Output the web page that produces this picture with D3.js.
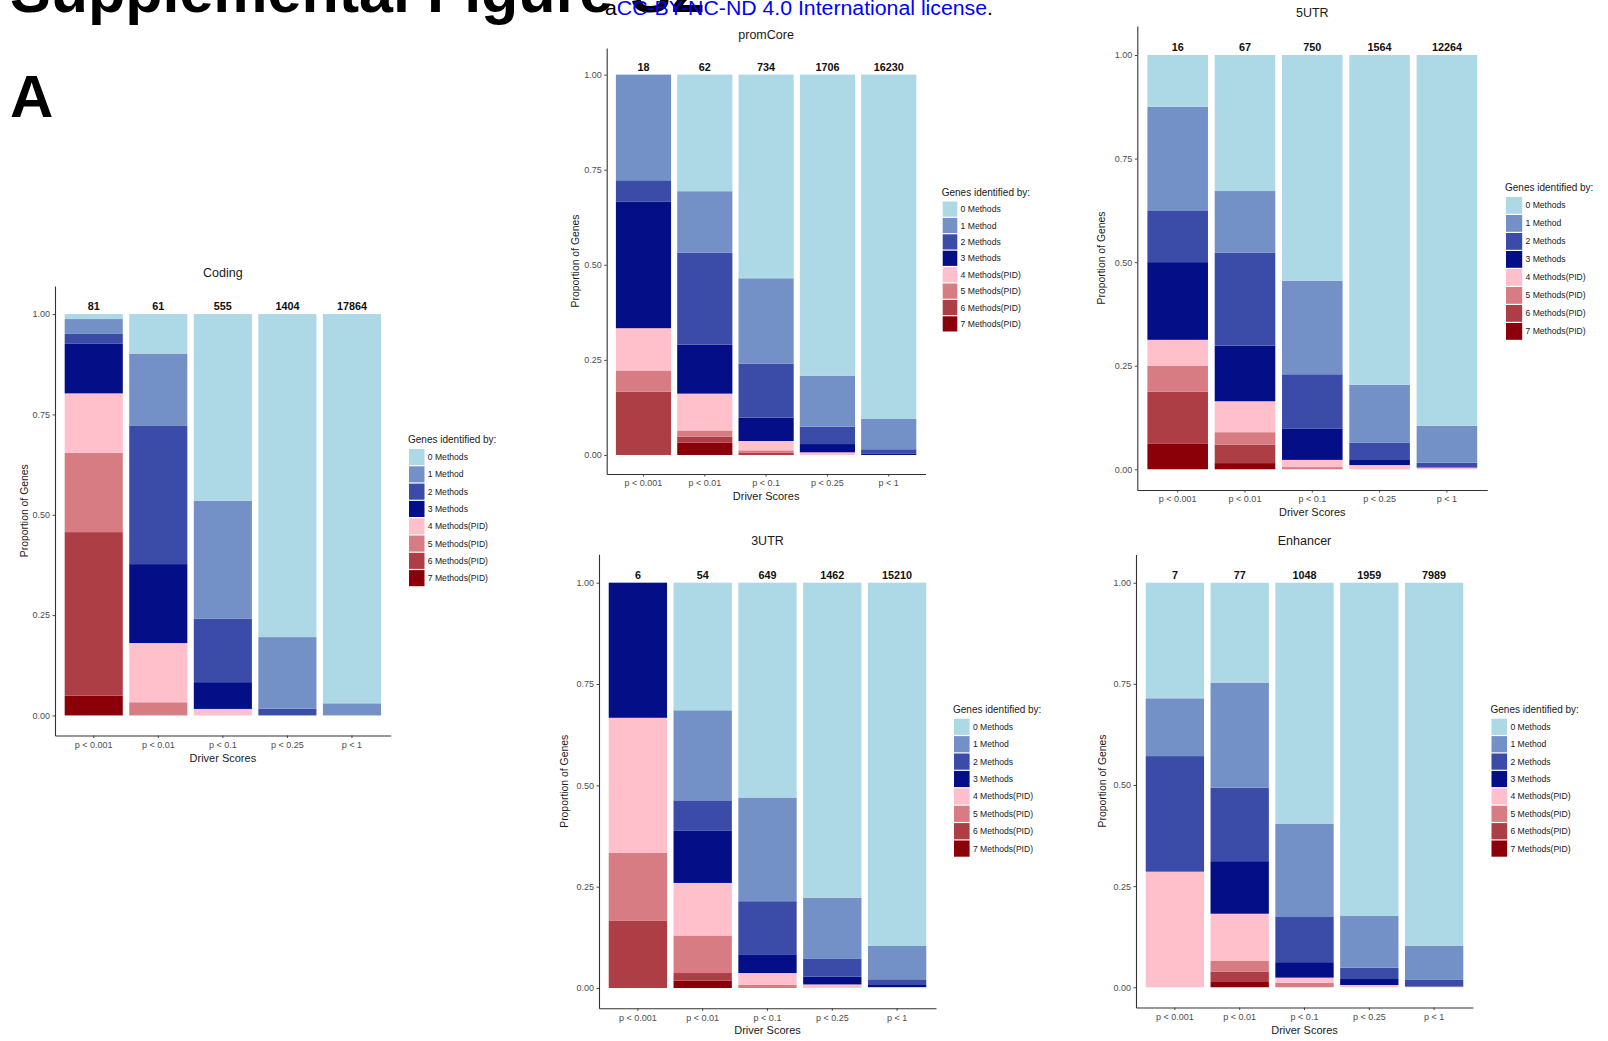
<!DOCTYPE html>
<html>
<head>
<meta charset="utf-8">
<script src="https://cdn.jsdelivr.net/npm/d3@7"></script>
<style>
  html, body { margin: 0; padding: 0; background: #fff; }
  svg { display: block; font-family: "Liberation Sans", Arial, Helvetica, sans-serif; }
</style>
</head>
<body>
<svg id="fig" width="1608" height="1041"></svg>
<script>
// Driver-score bins shared by every region
const categories = ["p < 0.001", "p < 0.01", "p < 0.1", "p < 0.25", "p < 1"];

// Number of methods that identified each gene (stack order: 0 on top, 7 at the bottom)
const methodLevels = ["0 Methods", "1 Method", "2 Methods", "3 Methods",
  "4 Methods(PID)", "5 Methods(PID)", "6 Methods(PID)", "7 Methods(PID)"];
const methodColors = ["#ADD8E6", "#7391C6", "#3A4BA8", "#040E86",
  "#FFC0CB", "#D67C82", "#AE3E45", "#8B0008"];

// Gene counts per bin, one array per bin, ordered as methodLevels
const codingCounts = [
  [1, 3, 2, 10, 12, 16, 33, 4],
  [6, 11, 21, 12, 9, 2, 0, 0],
  [258, 163, 88, 37, 9, 0, 0, 0],
  [1130, 250, 24, 0, 0, 0, 0, 0],
  [17324, 540, 0, 0, 0, 0, 0, 0]
];
const promCoreCounts = [
  [0, 5, 1, 6, 2, 1, 3, 0],
  [19, 10, 15, 8, 6, 1, 1, 2],
  [393, 165, 104, 45, 18, 5, 4, 0],
  [1350, 229, 78, 37, 12, 0, 0, 0],
  [14693, 1293, 195, 49, 0, 0, 0, 0]
];
const utr5Counts = [
  [2, 4, 2, 3, 1, 1, 2, 1],
  [22, 10, 15, 9, 5, 2, 3, 1],
  [409, 169, 98, 57, 13, 4, 0, 0],
  [1245, 218, 66, 19, 16, 0, 0, 0],
  [10973, 1095, 147, 0, 49, 0, 0, 0]
];
const utr3Counts = [
  [0, 0, 0, 2, 2, 1, 1, 0],
  [17, 12, 4, 7, 7, 5, 1, 1],
  [344, 166, 85, 30, 19, 5, 0, 0],
  [1136, 221, 64, 28, 13, 0, 0, 0],
  [13633, 1250, 213, 76, 38, 0, 0, 0]
];
const enhancerCounts = [
  [2, 1, 2, 0, 2, 0, 0, 0],
  [19, 20, 14, 10, 9, 2, 2, 1],
  [624, 242, 117, 40, 13, 12, 0, 0],
  [1614, 250, 55, 29, 11, 0, 0, 0],
  [7166, 678, 105, 24, 16, 0, 0, 0]
];

const yTicks = [0, 0.25, 0.5, 0.75, 1];

// Panel frames (axis extents) and legend placement
const panels = [
  { title: "Coding",   counts: codingCounts,   left: 55,    right: 390.7,  top: 286,   bottom: 735.5,
    yTitleOff: 27, legend: { x: 409,    y: 449,   step: 17.3 } },
  { title: "promCore", counts: promCoreCounts, left: 606.7, right: 925.5,  top: 48,    bottom: 474,
    yTitleOff: 28, legend: { x: 942.7,  y: 201.5, step: 16.4 } },
  { title: "5UTR",     counts: utr5Counts,     left: 1137.3, right: 1487.3, top: 26,   bottom: 490,
    yTitleOff: 32, legend: { x: 1506,   y: 197,   step: 18.0 } },
  { title: "3UTR",     counts: utr3Counts,     left: 599,   right: 936,    top: 554.3, bottom: 1008.3,
    yTitleOff: 31, legend: { x: 954,    y: 718.7, step: 17.4 } },
  { title: "Enhancer", counts: enhancerCounts, left: 1136,  right: 1473,   top: 554.4, bottom: 1007.5,
    yTitleOff: 30, legend: { x: 1491.5, y: 718.7, step: 17.4 } }
];

const svg = d3.select("#fig");
const color = d3.scaleOrdinal().domain(methodLevels).range(methodColors);

// Page header
svg.append("text")
  .attr("x", 10).attr("y", 12)
  .attr("font-size", 61).attr("font-weight", "bold").attr("fill", "#000")
  .text("Supplemental Figure S2");

const lic = svg.append("text")
  .attr("x", 605).attr("y", 15)
  .attr("font-size", 20)
  .attr("textLength", 388).attr("lengthAdjust", "spacingAndGlyphs");
lic.append("tspan").attr("fill", "#000").text("a");
lic.append("tspan").attr("fill", "#0000FF").text("CC-BY-NC-ND 4.0 International license");
lic.append("tspan").attr("fill", "#000").text(".");

svg.append("text")
  .attr("x", 10).attr("y", 117)
  .attr("font-size", 60).attr("font-weight", "bold").attr("fill", "#000")
  .text("A");

panels.forEach(p => {
  const g = svg.append("g");

  const rows = p.counts.map((c, i) => {
    const total = d3.sum(c);
    const row = { cat: categories[i], total };
    methodLevels.forEach((m, j) => { row[m] = c[j] / total; });
    return row;
  });

  const x = d3.scaleBand().domain(categories).range([p.left, p.right])
    .paddingInner(0.1).paddingOuter(0.15);
  const y = d3.scaleLinear().domain([-0.05, 1.07]).range([p.bottom, p.top]);

  const series = d3.stack().keys(methodLevels.slice().reverse())(rows);

  g.selectAll("g.layer").data(series).join("g")
    .attr("class", "layer")
    .attr("fill", d => color(d.key))
    .selectAll("rect").data(d => d).join("rect")
    .attr("x", d => x(d.data.cat))
    .attr("width", x.bandwidth())
    .attr("y", d => y(d[1]))
    .attr("height", d => Math.max(0, y(d[0]) - y(d[1])));

  // Totals above each bar
  g.selectAll("text.total").data(rows).join("text")
    .attr("class", "total")
    .attr("x", d => x(d.cat) + x.bandwidth() / 2)
    .attr("y", y(1) - 4)
    .attr("text-anchor", "middle")
    .attr("font-size", 10.8).attr("font-weight", "bold").attr("fill", "#111")
    .text(d => d.total);

  // Axes
  const yAxis = g.append("g").attr("transform", `translate(${p.left},0)`)
    .call(d3.axisLeft(y).tickValues(yTicks).tickFormat(d3.format(".2f"))
      .tickSize(2.5).tickSizeOuter(0).tickPadding(2.5));
  const xAxis = g.append("g").attr("transform", `translate(0,${p.bottom})`)
    .call(d3.axisBottom(x).tickSize(2.5).tickSizeOuter(0).tickPadding(3.5));
  [yAxis, xAxis].forEach(a => {
    a.select(".domain").attr("stroke", "#333").attr("stroke-width", 1.1);
    a.selectAll(".tick line").attr("stroke", "#333").attr("stroke-width", 0.9);
    a.selectAll(".tick text").attr("fill", "#4D4D4D").attr("font-size", 9)
      .attr("font-family", "Liberation Sans, Arial, sans-serif");
  });

  // Titles
  g.append("text")
    .attr("x", (p.left + p.right) / 2).attr("y", p.top - 9.5)
    .attr("text-anchor", "middle").attr("font-size", 12.5).attr("fill", "#1a1a1a")
    .text(p.title);
  g.append("text")
    .attr("x", (p.left + p.right) / 2).attr("y", p.bottom + 26)
    .attr("text-anchor", "middle").attr("font-size", 11).attr("fill", "#1a1a1a")
    .text("Driver Scores");
  g.append("text")
    .attr("transform", `translate(${p.left - p.yTitleOff},${(p.top + p.bottom) / 2}) rotate(-90)`)
    .attr("text-anchor", "middle").attr("font-size", 10.4).attr("fill", "#1a1a1a")
    .text("Proportion of Genes");

  // Legend
  const L = p.legend;
  const lg = g.append("g");
  lg.append("text")
    .attr("x", L.x - 1).attr("y", L.y - 6)
    .attr("font-size", 10).attr("fill", "#1a1a1a")
    .text("Genes identified by:");
  const items = lg.selectAll("g.item").data(methodLevels).join("g")
    .attr("class", "item")
    .attr("transform", (d, i) => `translate(${L.x},${L.y + i * L.step})`);
  items.append("rect")
    .attr("width", L.step - 1.8).attr("height", L.step - 1.2)
    .attr("fill", d => color(d));
  items.append("text")
    .attr("x", L.step + 1.5).attr("y", (L.step - 1.2) / 2)
    .attr("dy", "0.35em")
    .attr("font-size", 8.6).attr("fill", "#1a1a1a")
    .text(d => d);
});
</script>
</body>
</html>
